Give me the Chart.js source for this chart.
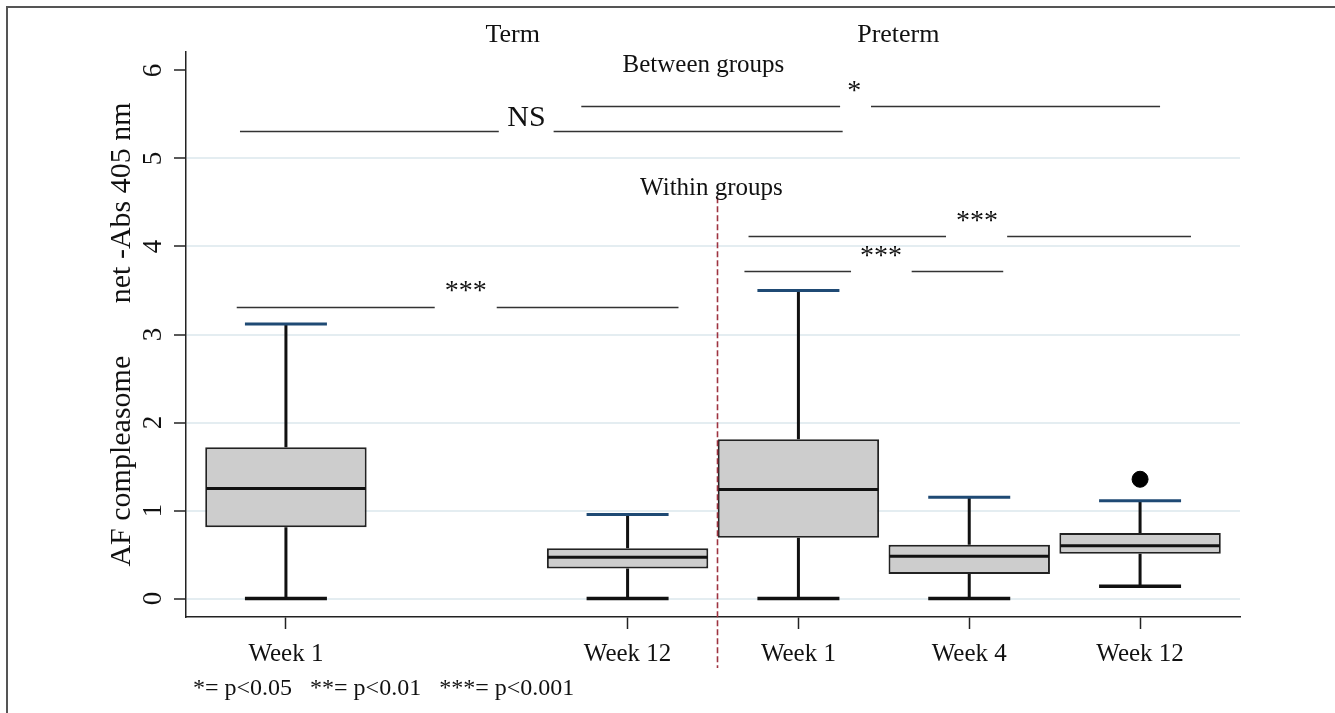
<!DOCTYPE html>
<html>
<head>
<meta charset="utf-8">
<title>AF compleasome, Term vs Preterm</title>
<script src="https://cdn.jsdelivr.net/npm/chart.js@4.4.1/dist/chart.umd.min.js"></script>
<style>
  html, body { margin: 0; padding: 0; background: #ffffff; }
  #wrap { position: relative; width: 1335px; height: 713px; }
  canvas { display: block; }
</style>
</head>
<body>
<div id="wrap"><canvas id="chart" width="1335" height="713"></canvas></div>
<script>
// ---- data ---------------------------------------------------------------
const categories   = ['Week 1', 'Week 12', 'Week 1', 'Week 4', 'Week 12'];
const slots        = [1, 3, 4, 5, 6];              // x slot for each box
const groupLabels  = ['Term', 'Preterm'];
const whiskerLow   = [0.00, 0.00, 0.00, 0.00, 0.14];
const quartile1    = [0.81, 0.34, 0.69, 0.28, 0.51];
const medians      = [1.25, 0.47, 1.24, 0.48, 0.60];
const quartile3    = [1.72, 0.57, 1.81, 0.61, 0.745];
const whiskerHigh  = [3.12, 0.955, 3.50, 1.15, 1.11];
const outlierSlots = [6];
const outlierVals  = [1.355];
const yTickValues  = [0, 1, 2, 3, 4, 5, 6];
const footnote     = '*= p<0.05   **= p<0.01   ***= p<0.001';

// ---- annotation layout (data units) --------------------------------------
const SERIF = "'Liberation Serif', 'Times New Roman', serif";
const groupTitles = [
  { text: groupLabels[0], x: 2.327, y: 6.325 },
  { text: groupLabels[1], x: 4.585, y: 6.325 }
];
const headings = [
  { text: 'Between groups', x: 3.444, y: 5.984 },
  { text: 'Within groups',  x: 3.491, y: 4.583 }
];
const brackets = [
  { label: 'NS',  size: 30, y: 5.31, ty: 5.367, tx: 2.408, segs: [[0.731, 2.246], [2.567, 4.259]] },
  { label: '*',   size: 28, y: 5.60, ty: 5.674, tx: 4.327, segs: [[2.729, 4.244], [4.425, 6.117]] },
  { label: '***', size: 28, y: 4.117, ty: 4.197, tx: 5.045, segs: [[3.708, 4.864], [5.222, 6.298]] },
  { label: '***', size: 28, y: 3.72, ty: 3.799, tx: 4.484, segs: [[3.684, 4.308], [4.663, 5.199]] },
  { label: '***', size: 28, y: 3.314, ty: 3.401, tx: 2.053, segs: [[0.712, 1.871], [2.234, 3.298]] }
];
const dividerX = 3.522;
const dividerSpan = [4.56, -0.79];

const BOX_HALF = 0.4725;
const CAP_HALF = 0.24;

// ---- box-plot pieces drawn on the chart's own scales ----------------------
const boxPlotPlugin = {
  id: 'boxPlot',
  beforeDatasetsDraw(chart) {
    const { ctx, scales: { x, y } } = chart;
    ctx.save();
    ctx.strokeStyle = '#111';
    ctx.lineWidth = 3;
    ctx.lineCap = 'butt';
    slots.forEach((s, i) => {
      const px = x.getPixelForValue(s);
      ctx.beginPath();
      ctx.moveTo(px, y.getPixelForValue(quartile3[i]));
      ctx.lineTo(px, y.getPixelForValue(whiskerHigh[i]));
      ctx.moveTo(px, y.getPixelForValue(quartile1[i]));
      ctx.lineTo(px, y.getPixelForValue(whiskerLow[i]));
      ctx.stroke();
    });
    ctx.restore();
  },
  afterDatasetsDraw(chart) {
    const { ctx, scales: { x, y } } = chart;
    ctx.save();
    slots.forEach((s, i) => {
      const l = x.getPixelForValue(s - CAP_HALF);
      const r = x.getPixelForValue(s + CAP_HALF);
      // lower cap
      ctx.strokeStyle = '#111';
      ctx.lineWidth = 3.5;
      ctx.beginPath();
      const yl = y.getPixelForValue(whiskerLow[i]);
      ctx.moveTo(l, yl); ctx.lineTo(r, yl);
      ctx.stroke();
      // upper cap
      ctx.strokeStyle = '#1f4a74';
      ctx.lineWidth = 3;
      ctx.beginPath();
      const yh = y.getPixelForValue(whiskerHigh[i]);
      ctx.moveTo(l, yh); ctx.lineTo(r, yh);
      ctx.stroke();
      // median
      ctx.strokeStyle = '#111';
      ctx.lineWidth = 3;
      ctx.beginPath();
      const ym = y.getPixelForValue(medians[i]);
      ctx.moveTo(x.getPixelForValue(s - BOX_HALF) + 1, ym);
      ctx.lineTo(x.getPixelForValue(s + BOX_HALF) - 1, ym);
      ctx.stroke();
    });
    ctx.restore();
  },
  afterDraw(chart) {
    const { ctx, scales: { x, y }, chartArea } = chart;
    ctx.save();

    // group divider
    ctx.strokeStyle = '#9e3340';
    ctx.lineWidth = 1.6;
    ctx.setLineDash([6, 3]);
    ctx.beginPath();
    const dx = Math.round(x.getPixelForValue(dividerX)) + 0.5;
    ctx.moveTo(dx, y.getPixelForValue(dividerSpan[0]));
    ctx.lineTo(dx, y.getPixelForValue(dividerSpan[1]));
    ctx.stroke();
    ctx.setLineDash([]);

    // significance brackets
    ctx.fillStyle = '#111';
    ctx.textAlign = 'center';
    ctx.textBaseline = 'alphabetic';
    brackets.forEach(b => {
      ctx.strokeStyle = '#333';
      ctx.lineWidth = 1.5;
      const py = Math.round(y.getPixelForValue(b.y)) + 0.5;
      b.segs.forEach(([a, c]) => {
        ctx.beginPath();
        ctx.moveTo(x.getPixelForValue(a), py);
        ctx.lineTo(x.getPixelForValue(c), py);
        ctx.stroke();
      });
      ctx.font = b.size + 'px ' + SERIF;
      ctx.fillText(b.label, x.getPixelForValue(b.tx), y.getPixelForValue(b.ty));
    });

    ctx.font = '26px ' + SERIF;
    groupTitles.forEach(t => ctx.fillText(t.text, x.getPixelForValue(t.x), y.getPixelForValue(t.y)));
    ctx.font = '25px ' + SERIF;
    headings.forEach(t => ctx.fillText(t.text, x.getPixelForValue(t.x), y.getPixelForValue(t.y)));

    // footnote
    ctx.textAlign = 'left';
    ctx.font = '24px ' + SERIF;
    ctx.fillText(footnote, chartArea.left + 7, chartArea.bottom + 78);

    // outer frame
    ctx.strokeStyle = '#555';
    ctx.lineWidth = 2;
    ctx.beginPath();
    ctx.moveTo(7, chart.height);
    ctx.lineTo(7, 7);
    ctx.lineTo(chart.width, 7);
    ctx.stroke();

    ctx.restore();
  }
};

new Chart(document.getElementById('chart'), {
  type: 'bar',
  data: {
    datasets: [
      {
        type: 'bar',
        data: slots.map((s, i) => ({ x: s, y: [quartile1[i], quartile3[i]] })),
        backgroundColor: '#cdcdcd',
        borderColor: '#222',
        borderWidth: 2,
        borderSkipped: false,
        categoryPercentage: 1,
        barPercentage: BOX_HALF * 2
      },
      {
        type: 'scatter',
        data: outlierSlots.map((s, i) => ({ x: s, y: outlierVals[i] })),
        backgroundColor: '#000',
        borderColor: '#000',
        pointRadius: 8,
        pointHoverRadius: 8
      }
    ]
  },
  options: {
    responsive: false,
    animation: false,
    devicePixelRatio: 1,
    layout: { padding: { left: 0, top: 52, right: 95, bottom: 0 } },
    plugins: { legend: { display: false }, tooltip: { enabled: false } },
    scales: {
      x: {
        type: 'linear',
        min: 0.415,
        max: 6.585,
        offset: false,
        afterBuildTicks(scale) { scale.ticks = slots.map(v => ({ value: v })); },
        afterFit(scale) { scale.height = 96; },
        ticks: {
          autoSkip: false,
          maxRotation: 0,
          padding: 10,
          color: '#111',
          font: { family: SERIF, size: 25 },
          callback(value) { return categories[slots.indexOf(value)]; }
        },
        grid: { offset: false, drawOnChartArea: false, tickLength: 12, tickColor: '#222', tickWidth: 1.5 },
        border: { color: '#222', width: 1.5 }
      },
      y: {
        min: -0.21,
        max: 6.21,
        afterBuildTicks(scale) { scale.ticks = yTickValues.map(v => ({ value: v })); },
        afterFit(scale) { scale.width = 186; },
        ticks: {
          minRotation: 90,
          maxRotation: 90,
          crossAlign: 'center',
          padding: 13,
          color: '#111',
          font: { family: SERIF, size: 27 }
        },
        grid: {
          color: ctx => (ctx.tick && ctx.tick.value === 6 ? 'rgba(0,0,0,0)' : '#e4edf1'),
          lineWidth: 2,
          tickLength: 12,
          tickColor: '#222',
          tickWidth: 1.5
        },
        border: { color: '#222', width: 1.5 },
        title: {
          display: true,
          text: 'AF compleasome       net -Abs 405 nm',
          color: '#111',
          font: { family: SERIF, size: 30 },
          padding: { top: 104, bottom: 0 }
        }
      }
    }
  },
  plugins: [boxPlotPlugin]
});
</script>
</body>
</html>
